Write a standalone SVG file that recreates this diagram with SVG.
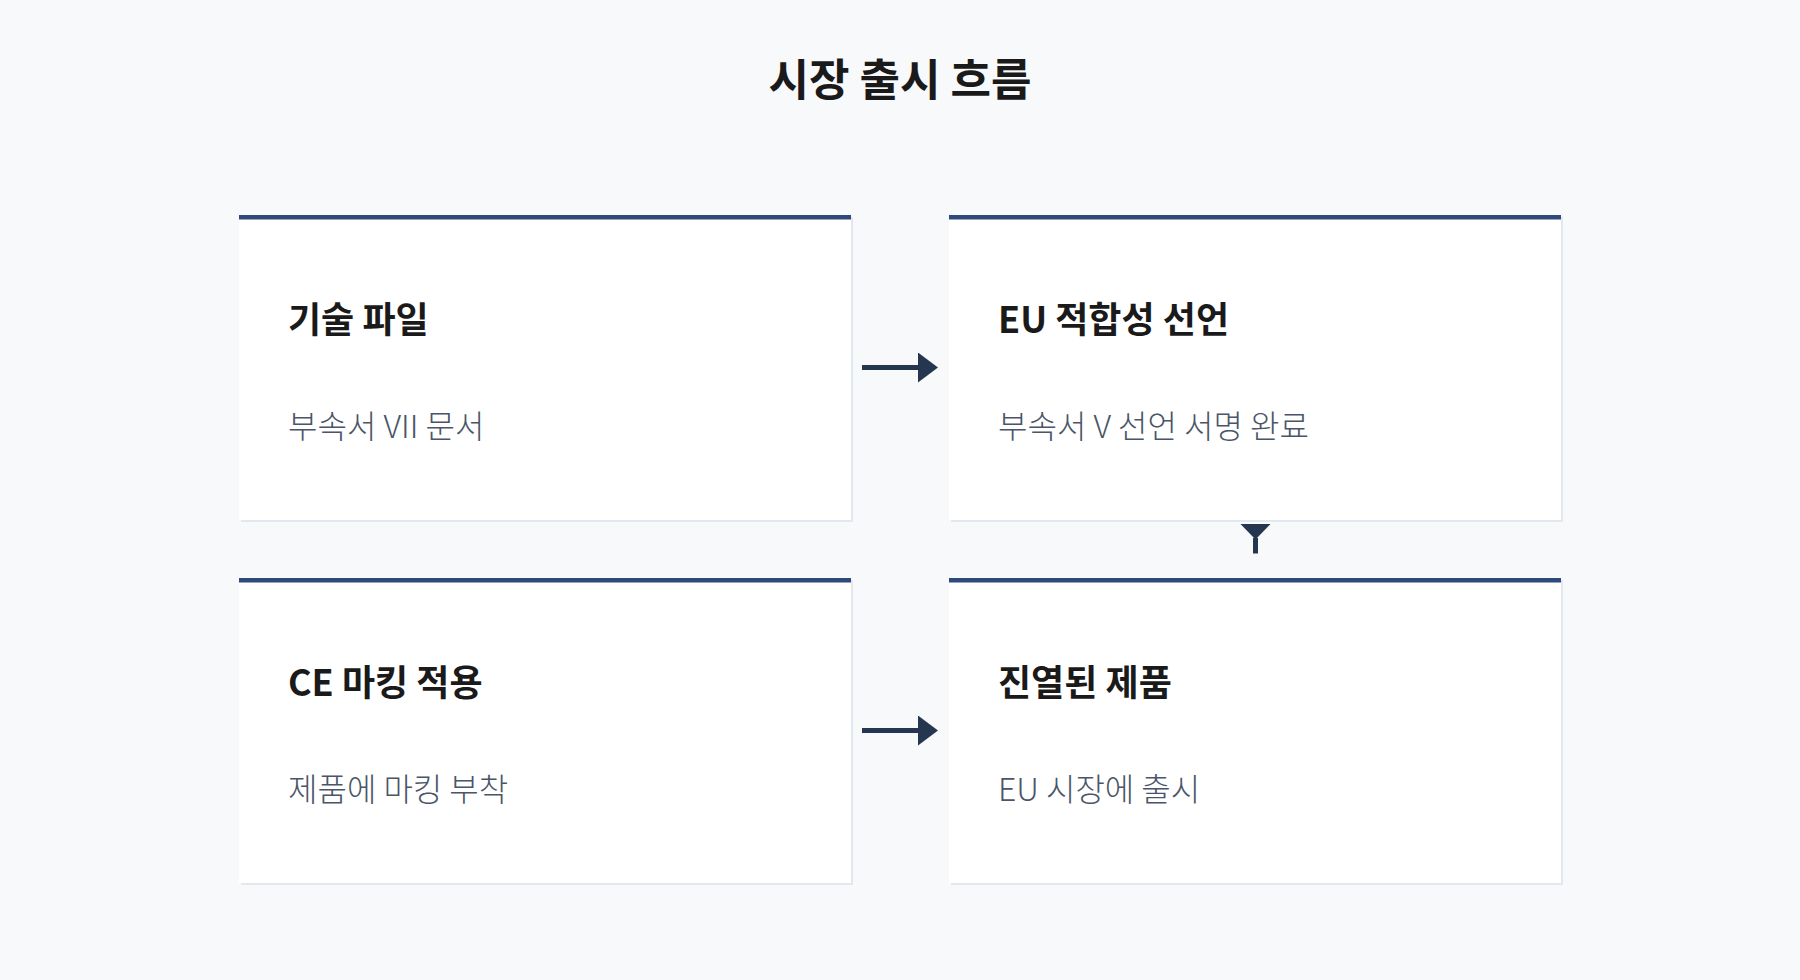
<svg xmlns="http://www.w3.org/2000/svg" width="1800" height="980" viewBox="0 0 1800 980">
  <style>
    .bg { fill: #f8f9fb; }
    .shadow { fill: #e2e8f0; }
    .card { fill: #ffffff; }
    .bar { fill: #2f4a78; }
    .h1 { font-family: "Noto Sans CJK KR", "Noto Sans", sans-serif; font-size: 44px; font-weight: 700; fill: #1a1a1a; }
    .title { font-family: "Noto Sans CJK KR", "Noto Sans", sans-serif; font-size: 36px; font-weight: 700; fill: #1a1a1a; }
    .sub { font-family: "Noto Sans CJK KR", "Noto Sans", sans-serif; font-size: 32px; font-weight: 300; fill: #4a5568; }
    .conn { stroke: #253650; stroke-width: 5; fill: none; }
    .head { fill: #253650; }
  </style>
  <defs>
    <marker id="ah" markerUnits="userSpaceOnUse" markerWidth="20" markerHeight="30" refX="0" refY="15" orient="auto">
      <path class="head" d="M0,0 L20,15 L0,30 Z"/>
    </marker>
  </defs>
  <rect class="bg" x="0" y="0" width="1800" height="980"/>
  <text class="h1" x="900" y="96" text-anchor="middle">시장 출시 흐름</text>

  <g id="connectors">
    <line class="conn" x1="862" y1="367.5" x2="918" y2="367.5" marker-end="url(#ah)"/>
    <line class="conn" x1="862" y1="730.5" x2="918" y2="730.5" marker-end="url(#ah)"/>
    <path class="head" d="M1240.5,524 L1270.5,524 L1255.5,539.5 Z"/>
    <line class="conn" x1="1255.5" y1="538" x2="1255.5" y2="553.5"/>
  </g>

  <g id="node-technical-file">
    <rect class="shadow" x="241" y="217" width="612" height="305"/>
    <rect class="card" x="239" y="215" width="612" height="305"/>
    <rect class="bar" x="239" y="215" width="612" height="4.5"/>
    <text class="title" x="288" y="333">기술 파일</text>
    <text class="sub" x="288" y="438">부속서 VII 문서</text>
  </g>

  <g id="node-eu-declaration">
    <rect class="shadow" x="951" y="217" width="612" height="305"/>
    <rect class="card" x="949" y="215" width="612" height="305"/>
    <rect class="bar" x="949" y="215" width="612" height="4.5"/>
    <text class="title" x="998" y="333">EU 적합성 선언</text>
    <text class="sub" x="998" y="438">부속서 V 선언 서명 완료</text>
  </g>

  <g id="node-ce-marking">
    <rect class="shadow" x="241" y="580" width="612" height="305"/>
    <rect class="card" x="239" y="578" width="612" height="305"/>
    <rect class="bar" x="239" y="578" width="612" height="4.5"/>
    <text class="title" x="288" y="696">CE 마킹 적용</text>
    <text class="sub" x="288" y="801">제품에 마킹 부착</text>
  </g>

  <g id="node-listed-product">
    <rect class="shadow" x="951" y="580" width="612" height="305"/>
    <rect class="card" x="949" y="578" width="612" height="305"/>
    <rect class="bar" x="949" y="578" width="612" height="4.5"/>
    <text class="title" x="998" y="696">진열된 제품</text>
    <text class="sub" x="998" y="801">EU 시장에 출시</text>
  </g>
</svg>
